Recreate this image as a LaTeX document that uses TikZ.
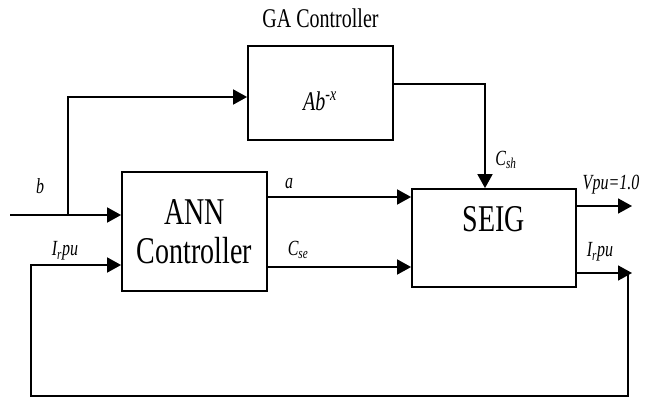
\documentclass[tikz,border=0pt]{standalone}
\usepackage{fontspec}
\setmainfont{Liberation Serif}
\usetikzlibrary{positioning,arrows.meta,calc}
\newcommand{\alto}[1]{\scalebox{1}[1.35]{#1}}

\begin{document}
\begin{tikzpicture}[x=1pt, y=-1pt,
      blk/.style={draw, line width=1.8pt, inner sep=0pt, align=center,
                  font=\fontsize{28}{30}\selectfont},
      t/.style={-{Triangle[length=14pt, width=15pt]}, line width=1.8pt},
      lbl/.style={font=\fontsize{16}{18}\selectfont\itshape, inner sep=0pt}]

    \useasboundingbox (0,0) rectangle (652,398);

    % bloques
    \node[blk, minimum width=145pt, minimum height=94pt] (ga) at (320.5,93) {};
    \node[font=\fontsize{20}{22}\selectfont\itshape] (gatext) at (320,101)
      {\alto{Ab\textsuperscript{-x}}};
    \node[font=\fontsize{20}{22}\selectfont, above=14pt of ga] (gatitle)
      {\alto{GA Controller}};
    \node[blk, minimum width=145pt, minimum height=119pt] (ann) at (194.5,231.5)
      {\alto{ANN}\\[9pt]\alto{Controller}};
    \node[blk, minimum width=164pt, minimum height=98pt, text depth=38pt] (seig) at (494,238)
      {\alto{SEIG}};

    % puntos libres
    \coordinate (inp) at (10,215);
    \coordinate (jb) at (68,215);
    \coordinate (vout) at (632,206);
    \coordinate (iout) at (632,273);
    \coordinate (fbr) at (628,396);
    \coordinate (fbl) at (31,396);

    % entrada b
    \draw[t] (inp) -- (inp -| ann.west);
    \draw[t] (jb) |- ([yshift=-4pt]ga.west);
    \node[lbl] (lb) at (40,186) {\alto{b}};

    % salida GA hacia SEIG
    \draw[t] ([yshift=9pt]ga.east) -| ([xshift=-9pt]seig.north);
    \node[lbl] (lcsh) at (506,160) {\alto{C\textsubscript{sh}}};

    % ANN -> SEIG
    \draw[t] ([yshift=34.5pt]ann.east) -- ([yshift=34.5pt]ann.east -| seig.west);
    \node[lbl] (la) at (289,184) {\alto{a}};
    \draw[t] ([yshift=-35.5pt]ann.east) -- ([yshift=-35.5pt]ann.east -| seig.west);
    \node[lbl] (lcse) at (298,250) {\alto{C\textsubscript{se}}};

    % salidas SEIG
    \draw[t] (seig.east |- vout) -- (vout);
    \node[lbl] (lv) at (611,185) {\alto{Vpu=1.0}};
    \draw[t] (seig.east |- iout) -- (iout);
    \node[lbl] (lir) at (600,252) {\alto{I\textsubscript{r}pu}};

    % realimentacion
    \draw[t] (fbr |- iout) -- (fbr) -- (fbl) |- ([yshift=-33.5pt]ann.west);
    \node[lbl] (lil) at (65,251) {\alto{I\textsubscript{r}pu}};
  \end{tikzpicture}
\end{document}
